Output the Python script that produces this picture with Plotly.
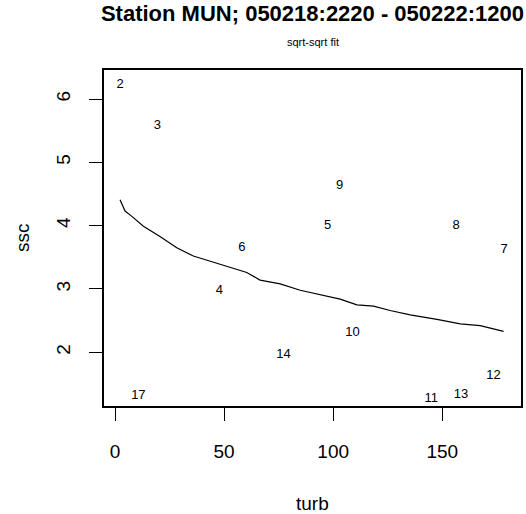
import plotly.graph_objects as go

# point labels and positions (turb, ssc)
labels = ["2", "3", "4", "5", "6", "7", "8", "9", "10", "11", "12", "13", "14", "17"]
turb = [2.3, 19.4, 47.8, 97.4, 58.1, 178.4, 156.4, 102.9, 108.9, 145.0, 173.5, 158.6, 77.2, 10.7]
ssc = [6.22, 5.57, 2.97, 4.00, 3.65, 3.62, 4.00, 4.63, 2.31, 1.27, 1.63, 1.33, 1.96, 1.31]

# fitted sqrt-sqrt curve
fit_turb = [2.3, 4.6, 7.6, 13.0, 20.6, 28.3, 35.9, 43.6, 51.2, 60.4, 66.5, 75.7, 84.9,
            94.0, 103.2, 110.9, 118.5, 126.1, 135.3, 147.6, 158.3, 167.4, 178.1]
fit_ssc = [4.41, 4.23, 4.15, 3.99, 3.83, 3.65, 3.52, 3.44, 3.35, 3.26, 3.14, 3.08, 2.98,
           2.91, 2.84, 2.75, 2.73, 2.66, 2.59, 2.52, 2.45, 2.42, 2.33]

x_ticks = [0, 50, 100, 150]
y_ticks = [2, 3, 4, 5, 6]

FONT = "Liberation Sans, Arial, sans-serif"

fig = go.Figure()
fig.add_trace(go.Scatter(x=fit_turb, y=fit_ssc, mode="lines",
                         line=dict(color="black", width=1.2), hoverinfo="skip"))
fig.add_trace(go.Scatter(x=turb, y=ssc, mode="text", text=labels,
                         textposition="middle center",
                         textfont=dict(family=FONT, size=13, color="black")))

fig.update_layout(
    width=526, height=514,
    margin=dict(l=104, r=5, t=70, b=108, autoexpand=False),
    paper_bgcolor="white", plot_bgcolor="white",
    showlegend=False,
    font=dict(family=FONT, color="black"),
    title=dict(text="<b>Station MUN; 050218:2220 - 050222:1200</b>",
               x=0.5, xref="paper", xanchor="center", y=1 - 13 / 514, yanchor="middle",
               font=dict(family=FONT, size=22, color="black")),
    annotations=[
        dict(text="sqrt-sqrt fit", xref="paper", yref="paper",
             x=0.5, y=1, yshift=28, showarrow=False, yanchor="middle",
             font=dict(family=FONT, size=11, color="black")),
        dict(text="turb", xref="paper", yref="paper", x=0.5, y=0, yshift=-97,
             showarrow=False, yanchor="middle", xanchor="center",
             font=dict(family=FONT, size=19, color="black")),
        dict(text="ssc", xref="paper", yref="paper", x=0, y=0.5, xshift=-82,
             showarrow=False, yanchor="middle", xanchor="center", textangle=-90,
             font=dict(family=FONT, size=19, color="black")),
    ],
)
fig.update_xaxes(range=[-5.05, 186.1], tickvals=x_ticks, ticktext=[str(v) for v in x_ticks],
                 automargin=False,
                 showgrid=False, zeroline=False, showline=True, linecolor="black",
                 linewidth=1.5, mirror=True, ticks="outside", ticklen=13, tickwidth=1.2,
                 tickcolor="black", tickfont=dict(family=FONT, size=19),
                 ticklabelstandoff=14)
fig.update_yaxes(range=[1.152, 6.458], tickvals=y_ticks, ticktext=[str(v) for v in y_ticks],
                 automargin=False,
                 showgrid=False, zeroline=False, showline=True, linecolor="black",
                 linewidth=1.5, mirror=True, ticks="outside", ticklen=13, tickwidth=1.2,
                 tickcolor="black", tickfont=dict(family=FONT, size=19), tickangle=-90,
                 ticklabelstandoff=12)

fig.write_html("out.html", config={"displayModeBar": False},
               post_script="document.body.style.margin='0px';")
